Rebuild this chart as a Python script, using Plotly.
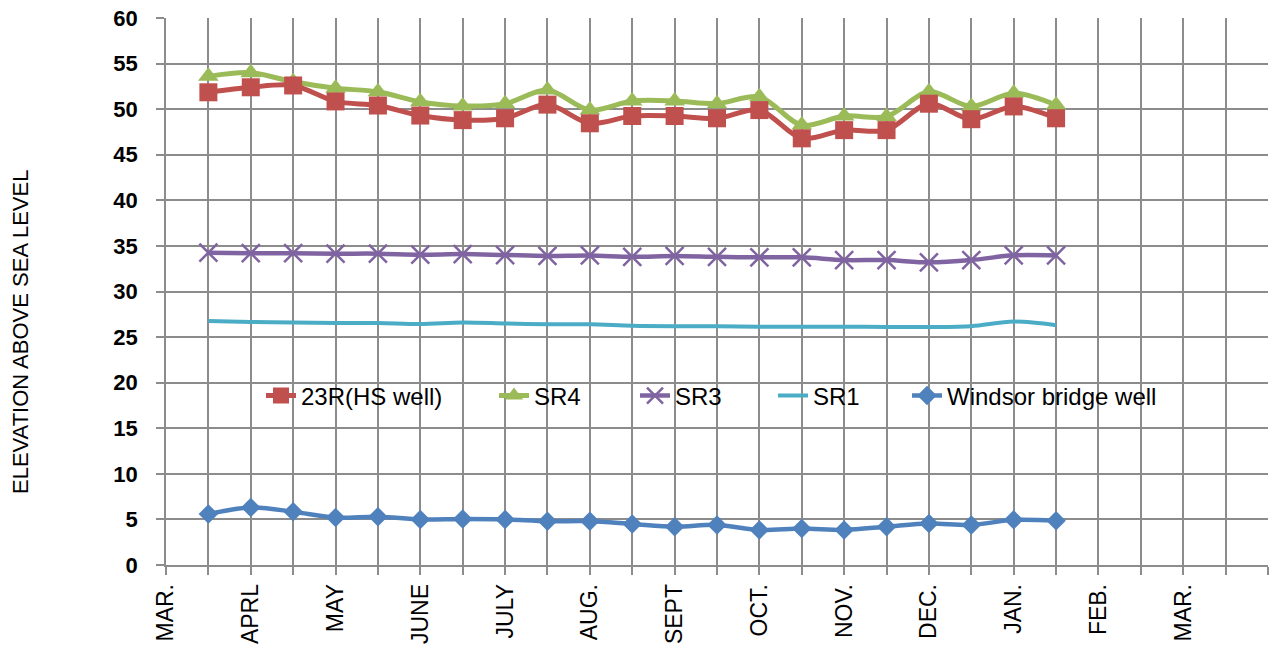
import plotly.graph_objects as go

# Month labels shown on every second category slot
month_labels = ["MAR.", "APRL", "MAY", "JUNE", "JULY", "AUG.", "SEPT",
                "OCT.", "NOV.", "DEC.", "JAN.", "FEB.", "MAR."]

# Half-month reading slots (category index along the x axis)
reading_slot = [1, 2, 3, 4, 5, 6, 7, 8, 9, 10, 11,
                12, 13, 14, 15, 16, 17, 18, 19, 20, 21]

well_23r = [51.85, 52.4, 52.6, 50.85, 50.4, 49.3, 48.8, 49.0, 50.5, 48.45, 49.25,
            49.25, 49.0, 49.9, 46.8, 47.7, 47.7, 50.6, 48.9, 50.3, 49.0]
sr4 = [53.6, 54.0, 53.0, 52.3, 51.9, 50.8, 50.35, 50.6, 52.1, 49.9, 50.9,
       50.9, 50.6, 51.35, 48.25, 49.25, 49.2, 51.9, 50.3, 51.75, 50.45]
sr3 = [34.26, 34.2, 34.2, 34.15, 34.15, 34.04, 34.1, 34.0, 33.9, 33.95, 33.8,
       33.9, 33.8, 33.75, 33.75, 33.45, 33.45, 33.2, 33.45, 33.97, 33.95]
sr1 = [26.76, 26.65, 26.6, 26.55, 26.55, 26.43, 26.6, 26.5, 26.4, 26.4, 26.25,
       26.2, 26.2, 26.14, 26.14, 26.14, 26.1, 26.1, 26.2, 26.7, 26.3]
windsor = [5.6, 6.3, 5.85, 5.2, 5.3, 5.0, 5.05, 5.0, 4.8, 4.8, 4.5,
           4.2, 4.4, 3.85, 4.0, 3.85, 4.2, 4.55, 4.4, 4.95, 4.85]

RED, GREEN, PURPLE, CYAN, BLUE = "#C0504D", "#9BBB59", "#8064A2", "#4BACC6", "#4F81BD"
GRID = "#8C8C8C"

fig = go.Figure()

def add_series(name, y, color, width, marker, legend):
    fig.add_trace(go.Scatter(
        x=reading_slot, y=y, name=name, legend=legend,
        mode="lines+markers" if marker else "lines",
        line=dict(color=color, width=width, shape="spline", smoothing=0.9),
        marker=marker, cliponaxis=False,
    ))

add_series("Windsor bridge well", windsor, BLUE, 4.5,
           dict(symbol="diamond", size=15, color=BLUE), "legend5")
add_series("SR1", sr1, CYAN, 4, None, "legend4")
add_series("SR3", sr3, PURPLE, 4.5,
           dict(symbol="x-thin", size=18, color=PURPLE,
                line=dict(width=2.5, color=PURPLE)), "legend3")
add_series("SR4", sr4, GREEN, 5,
           dict(symbol="triangle-up", size=18, color=GREEN), "legend2")
add_series("23R(HS well)", well_23r, RED, 5,
           dict(symbol="square", size=18, color=RED), "legend")

# one legend box per series so each entry sits at its own x position
legend_font = dict(family="Liberation Sans, Arial", size=24, color="#000000")
plot_left, plot_w, plot_bottom, plot_h = 166, 1102, 565, 547
text_starts = {"legend": 303, "legend2": 536, "legend3": 677,
               "legend4": 815, "legend5": 949}
legend_cfg = {}
for key, px in text_starts.items():
    legend_cfg[key] = dict(
        x=(px - 42 - plot_left) / plot_w, xanchor="left",
        y=(plot_bottom - 396) / plot_h, yanchor="middle",
        orientation="h", bgcolor="rgba(0,0,0,0)", font=legend_font,
        borderwidth=0,
    )

month_ticks = list(range(0, 27))
month_text = []
for i in month_ticks:
    month_text.append(month_labels[i // 2] if i % 2 == 0 and i // 2 < len(month_labels) else "")

fig.update_layout(
    width=1276, height=654,
    margin=dict(l=166, r=8, t=18, b=89, autoexpand=False),
    plot_bgcolor="white", paper_bgcolor="white",
    showlegend=True,
    **legend_cfg,
    xaxis=dict(
        range=[0, 26], tickmode="array", tickvals=month_ticks, ticktext=month_text,
        tickangle=-90, showgrid=True, gridcolor=GRID, gridwidth=1.6,
        showline=True, linecolor=GRID, linewidth=1.6,
        ticks="outside", ticklen=8, tickcolor=GRID, tickwidth=1.6,
        ticklabelstandoff=0, automargin=False,
        tickfont=dict(family="Liberation Sans, Arial", size=23, color="#000000"),
        zeroline=False,
    ),
    yaxis=dict(
        range=[0, 60], dtick=5, showgrid=True, gridcolor=GRID, gridwidth=1.6,
        showline=True, linecolor=GRID, linewidth=1.6,
        ticks="outside", ticklen=8, tickcolor=GRID, tickwidth=1.6,
        ticklabelstandoff=14, automargin=False,
        tickfont=dict(family="Liberation Sans, Arial", size=22, color="#000000",
                      weight="bold"),
        zeroline=False,
    ),
    annotations=[dict(
        text="ELEVATION ABOVE SEA LEVEL", textangle=-90,
        xref="paper", yref="paper",
        x=(20 - plot_left) / plot_w, y=(plot_bottom - 332) / plot_h,
        xanchor="center", yanchor="middle", showarrow=False,
        font=dict(family="Liberation Sans, Arial", size=22, color="#000000"),
    )],
)

fig.write_html("out.html")
